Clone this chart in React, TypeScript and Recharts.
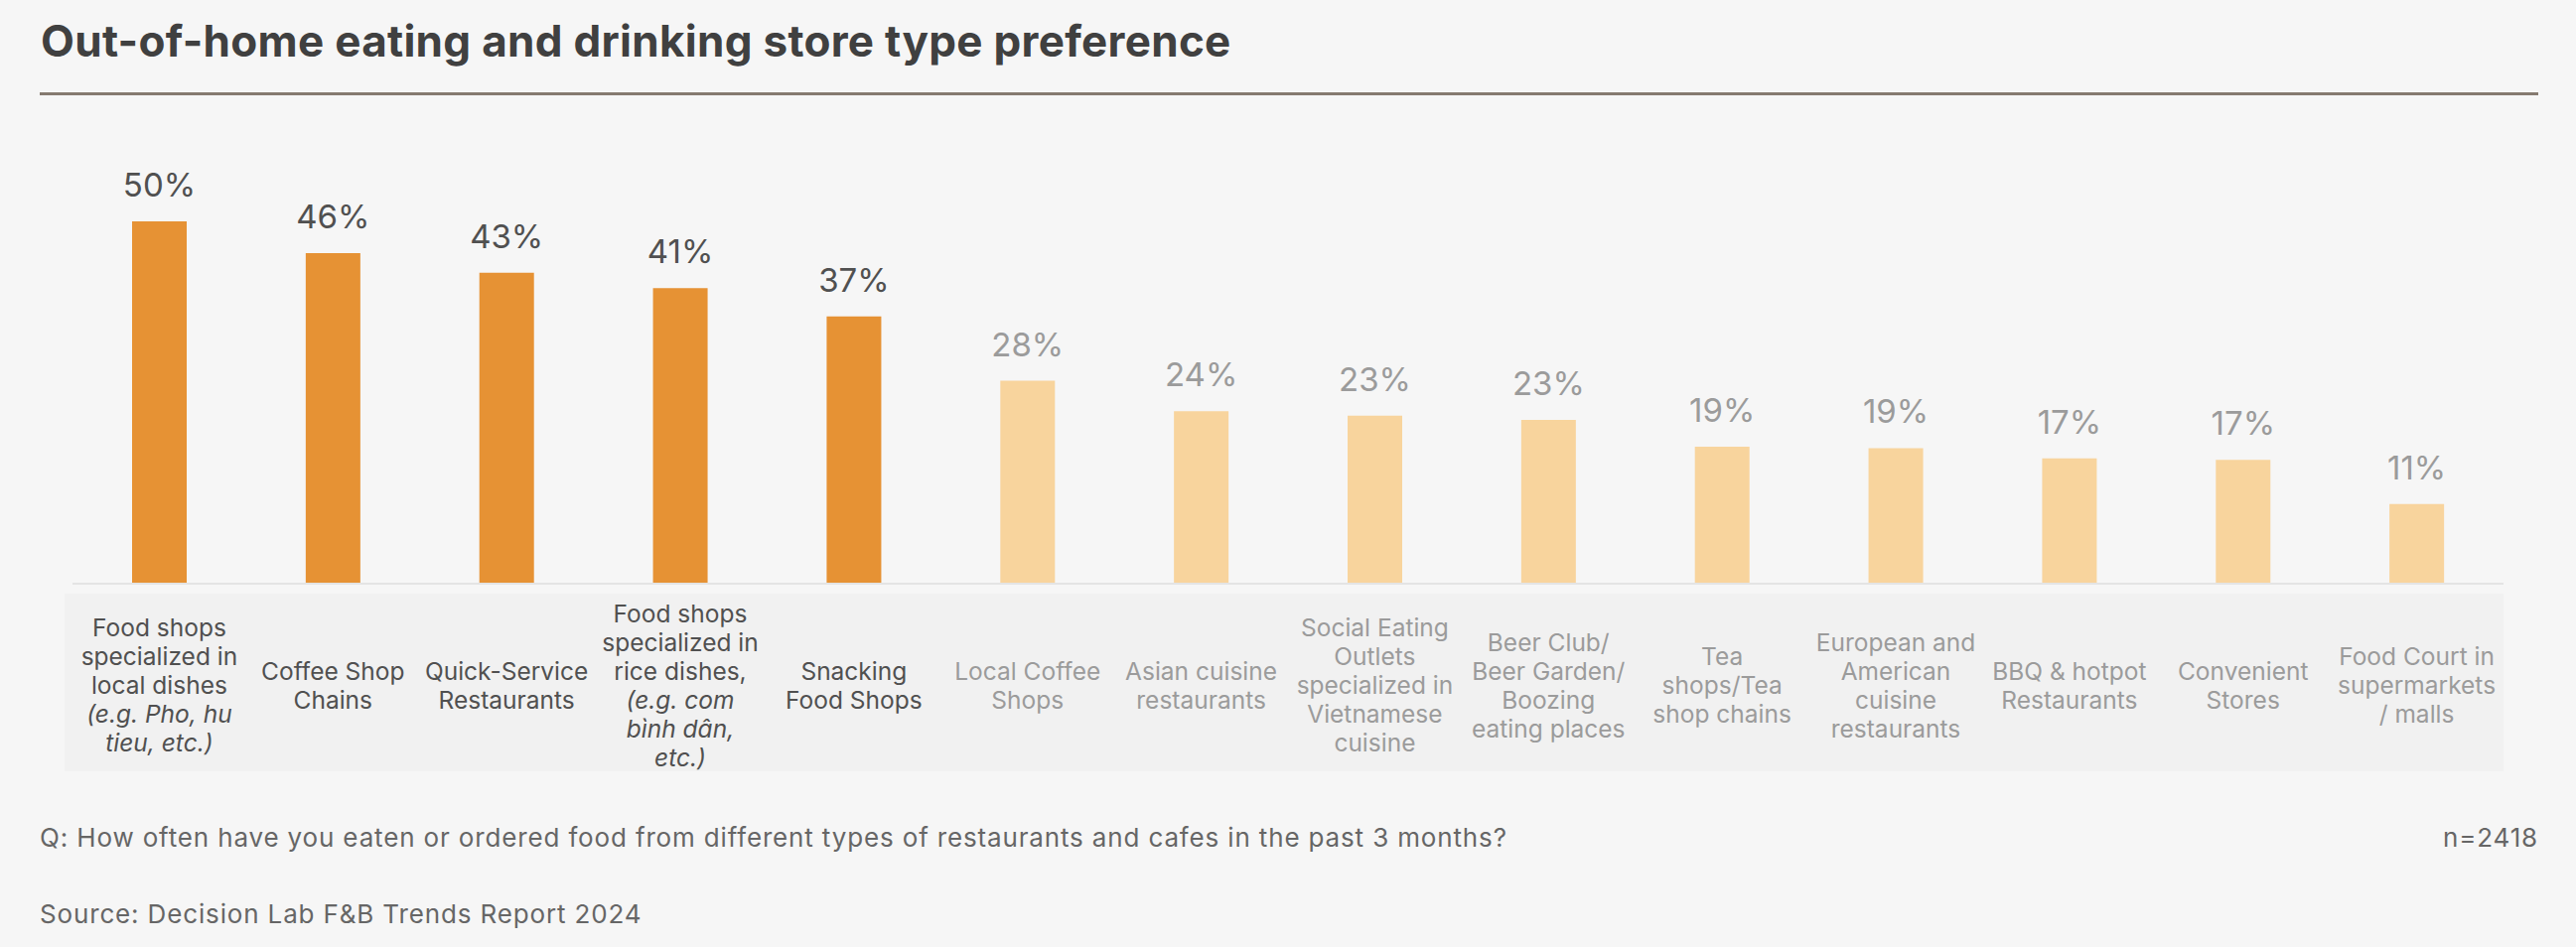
import React from 'react';
import { BarChart, Bar, XAxis, YAxis, Cell, LabelList } from 'recharts';

// store types, one entry per bar (line breaks as in the report)
const categoryLines: string[][] = [
  ['Food shops', 'specialized in', 'local dishes'],
  ['Coffee Shop', 'Chains'],
  ['Quick-Service', 'Restaurants'],
  ['Food shops', 'specialized in', 'rice dishes,'],
  ['Snacking', 'Food Shops'],
  ['Local Coffee', 'Shops'],
  ['Asian cuisine', 'restaurants'],
  ['Social Eating', 'Outlets', 'specialized in', 'Vietnamese', 'cuisine'],
  ['Beer Club/', 'Beer Garden/', 'Boozing', 'eating places'],
  ['Tea', 'shops/Tea', 'shop chains'],
  ['European and', 'American', 'cuisine', 'restaurants'],
  ['BBQ & hotpot', 'Restaurants'],
  ['Convenient', 'Stores'],
  ['Food Court in', 'supermarkets', '/ malls'],
];

// italic examples printed under some categories
const categoryNotes: string[][] = [
  ['(e.g. Pho, hu', 'tieu, etc.)'],
  [],
  [],
  ['(e.g. com', 'bình dân,', 'etc.)'],
  [],
  [],
  [],
  [],
  [],
  [],
  [],
  [],
  [],
  [],
];

// share of respondents (%)
const values = [50, 45.6, 42.9, 40.8, 36.9, 28, 23.8, 23.2, 22.6, 18.9, 18.7, 17.3, 17.1, 11];

// top five are highlighted
const highlighted = [true, true, true, true, true, false, false, false, false, false, false, false, false, false];

const data = categoryLines.map((lines, i) => ({
  name: lines.join(' '),
  value: values[i],
  highlight: highlighted[i],
}));

const DARK_BAR = '#E69234';
const LIGHT_BAR = '#F8D49D';
const DARK_TEXT = '#505050';
const LIGHT_TEXT = '#9B9B9B';
const FONT = 'Inter, "Noto Sans", sans-serif';

const LINE_H = 29;

function CategoryTick(props: any) {
  const { x, y, index } = props;
  const lines = categoryLines[index] || [];
  const notes = categoryNotes[index] || [];
  const all = [...lines.map((t) => ({ t, it: false })), ...notes.map((t) => ({ t, it: true }))];
  const center = y + 102;
  const first = center - ((all.length - 1) * LINE_H) / 2;
  const fill = highlighted[index] ? DARK_TEXT : LIGHT_TEXT;
  return (
    <g>
      {all.map((l, i) => (
        <text
          key={i}
          x={x}
          y={first + i * LINE_H}
          textAnchor="middle"
          dominantBaseline="central"
          fontFamily={FONT}
          fontSize={24.5}
          fontStyle={l.it ? 'italic' : 'normal'}
          fill={fill}
        >
          {l.t}
        </text>
      ))}
    </g>
  );
}

function ValueLabel(props: any) {
  const { x, y, width, value, index } = props;
  return (
    <text
      x={x + width / 2}
      y={y - 25}
      textAnchor="middle"
      fontFamily={FONT}
      fontSize={33}
      fill={highlighted[index] ? DARK_TEXT : LIGHT_TEXT}
    >
      {Math.round(value)}%
    </text>
  );
}

const footStyle: React.CSSProperties = {
  position: 'absolute',
  fontSize: 26,
  letterSpacing: 0.85,
  lineHeight: 1,
  color: '#666666',
  whiteSpace: 'nowrap',
};

export default function App() {
  return (
    <div
      style={{
        position: 'absolute',
        left: 0,
        top: 0,
        width: 2594,
        height: 954,
        background: '#F6F6F6',
        fontFamily: FONT,
        overflow: 'hidden',
      }}
    >
      <div
        style={{
          position: 'absolute',
          left: 41,
          top: 19,
          fontSize: 44,
          letterSpacing: 0.3,
          lineHeight: 1,
          fontWeight: 700,
          color: '#404040',
          whiteSpace: 'nowrap',
        }}
      >
        Out-of-home eating and drinking store type preference
      </div>
      <div style={{ position: 'absolute', left: 40, top: 93, width: 2516, height: 3, background: '#857A70' }} />

      <div style={{ position: 'absolute', left: 65, top: 598, width: 2456, height: 179, background: '#F1F1F1' }} />

      <div style={{ position: 'absolute', left: 0, top: 0 }}>
        <BarChart
          width={2594}
          height={954}
          data={data}
          margin={{ top: 223, right: 73, bottom: 176, left: 73 }}
        >
          <XAxis
            dataKey="name"
            height={190}
            interval={0}
            tickLine={false}
            tickSize={0}
            tickMargin={0}
            axisLine={{ stroke: '#E4E4E4', strokeWidth: 2 }}
            tick={<CategoryTick />}
          />
          <YAxis hide domain={[0, 50]} />
          <Bar dataKey="value" barSize={55} isAnimationActive={false}>
            {data.map((d, i) => (
              <Cell key={i} fill={d.highlight ? DARK_BAR : LIGHT_BAR} />
            ))}
            <LabelList dataKey="value" content={<ValueLabel />} />
          </Bar>
        </BarChart>
      </div>

      <div style={{ ...footStyle, left: 40, top: 831 }}>
        Q: How often have you eaten or ordered food from different types of restaurants and cafes in the past 3 months?
      </div>
      <div style={{ ...footStyle, right: 38, top: 831 }}>n=2418</div>
      <div style={{ ...footStyle, left: 40, top: 908 }}>Source: Decision Lab F&amp;B Trends Report 2024</div>
    </div>
  );
}
